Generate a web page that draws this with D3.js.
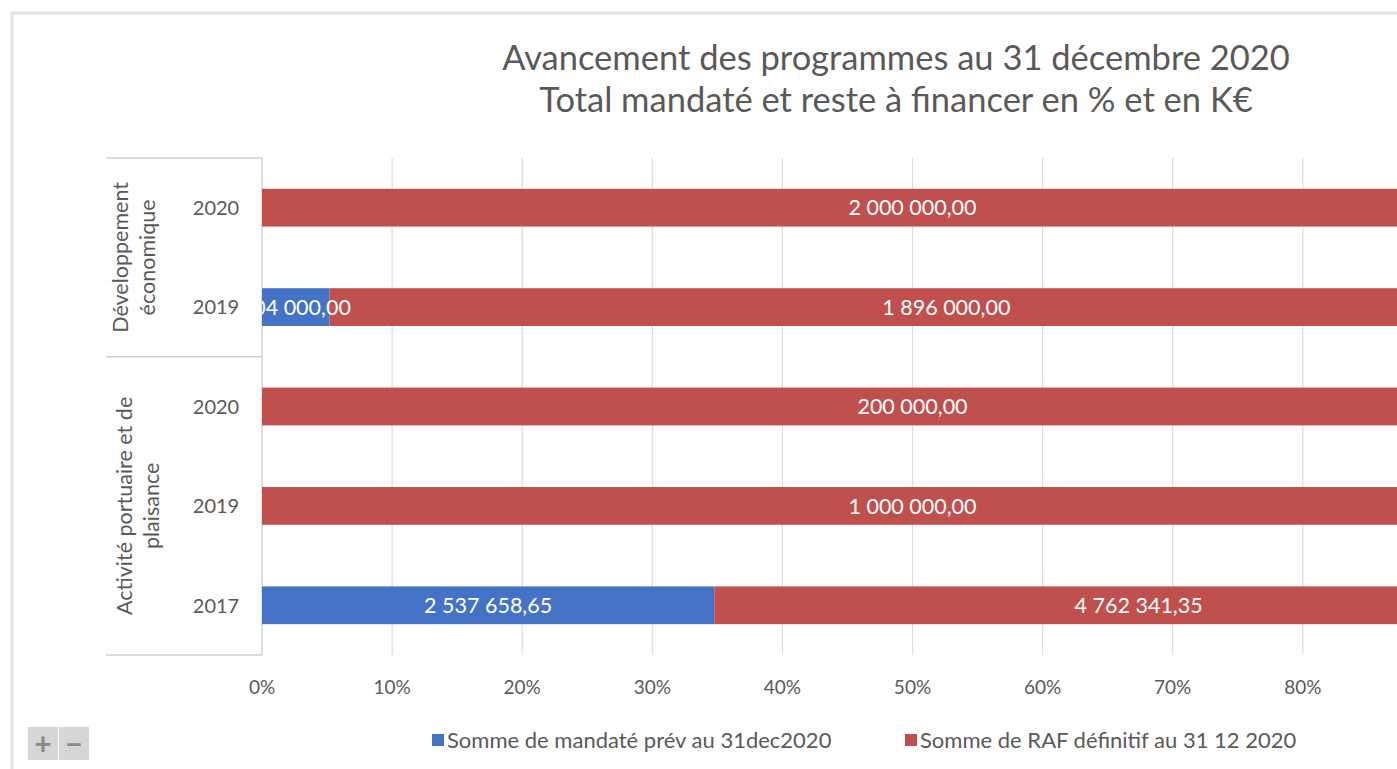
<!DOCTYPE html>
<html>
<head>
<meta charset="utf-8">
<script src="https://cdn.jsdelivr.net/npm/d3@7"></script>
<style>
body { margin: 0; background: #fff; overflow: hidden; }
text { font-family: Lato, "Open Sans", sans-serif; }
</style>
</head>
<body>
<script>
/* data */
var groups = ["Développement économique", "Activité portuaire et de plaisance"];
var groupLines = [["Développement", "économique"], ["Activité portuaire et de", "plaisance"]];
var years = ["2020", "2019", "2020", "2019", "2017"];
var groupOf = [0, 0, 1, 1, 1];
var mandate = [0, 104000, 0, 0, 2537658.65];
var raf = [2000000, 1896000, 200000, 1000000, 4762341.35];
var seriesNames = ["Somme de mandaté prév au 31dec2020", "Somme de RAF définitif au 31 12 2020"];
var tickValues = [0, 0.1, 0.2, 0.3, 0.4, 0.5, 0.6, 0.7, 0.8];
var titleLines = ["Avancement des programmes au 31 décembre 2020", "Total mandaté et reste à financer en % et en K€"];

/* settings */
var W = 1397, H = 769;
var colours = ["#4472C4", "#C0504D"];
var textColour = "#595959";
var plotLeft = 262, plotTop = 158, plotBottom = 655, plotWidth = 1301;

var fr = d3.formatLocale({decimal: ",", thousands: "\u00a0", grouping: [3], currency: ["", "€"]});
var fmt = fr.format(",.2f");

var svg = d3.select("body").append("svg")
	.attr("width", W).attr("height", H);

/* frame of the chart area */
svg.append("path")
	.attr("d", "M12," + H + " V13 H" + W)
	.attr("fill", "none").attr("stroke", "#e2e2e2").attr("stroke-width", 3);

/* title */
svg.append("g").selectAll("text").data(titleLines).enter().append("text")
	.attr("x", 896).attr("y", function(d, i) { return 70 + i * 42; })
	.attr("text-anchor", "middle")
	.attr("font-size", 34.5).attr("fill", textColour)
	.text(function(d) { return d; });

/* scales */
var idx = d3.range(years.length);
var x = d3.scaleLinear().domain([0, 1]).range([plotLeft, plotLeft + plotWidth]);
var y = d3.scaleBand().domain(idx).range([plotTop, plotBottom]).paddingInner(0.62).paddingOuter(0.31);

/* stacked, normalised to 100% */
var rows = idx.map(function(i) {
	var tot = mandate[i] + raf[i];
	return [
		{i: i, s: 0, v: mandate[i], x0: 0, x1: mandate[i] / tot},
		{i: i, s: 1, v: raf[i], x0: mandate[i] / tot, x1: 1}
	];
});
var segs = [].concat.apply([], rows);

/* gridlines */
svg.append("g").selectAll("line").data(tickValues).enter().append("line")
	.attr("x1", function(d) { return x(d); }).attr("x2", function(d) { return x(d); })
	.attr("y1", plotTop).attr("y2", plotBottom)
	.attr("stroke", function(d) { return d === 0 ? "#c8c8c8" : "#dcdcdc"; })
	.attr("stroke-width", 1.2);

/* bars */
svg.append("g").selectAll("rect").data(segs).enter().append("rect")
	.attr("x", function(d) { return x(d.x0); })
	.attr("width", function(d) { return x(d.x1) - x(d.x0); })
	.attr("y", function(d) { return y(d.i); })
	.attr("height", y.bandwidth())
	.attr("fill", function(d) { return colours[d.s]; });

/* value labels, clipped to the plot */
svg.append("clipPath").attr("id", "plotclip").append("rect")
	.attr("x", plotLeft).attr("y", plotTop).attr("width", plotWidth).attr("height", plotBottom - plotTop);

svg.append("g").attr("clip-path", "url(#plotclip)")
	.selectAll("text").data(segs.filter(function(d) { return d.v > 0; })).enter().append("text")
	.attr("x", function(d) { return (x(d.x0) + x(d.x1)) / 2; })
	.attr("y", function(d) { return y(d.i) + y.bandwidth() / 2; })
	.attr("dy", "0.36em")
	.attr("text-anchor", "middle")
	.attr("font-size", 21.5).attr("fill", "#fff")
	.text(function(d) { return fmt(d.v); });

/* x axis labels */
svg.append("g").selectAll("text").data(tickValues).enter().append("text")
	.attr("x", function(d) { return x(d); }).attr("y", 694)
	.attr("text-anchor", "middle")
	.attr("font-size", 19).attr("fill", textColour)
	.text(d3.format(".0%"));

/* category axis: years */
svg.append("g").selectAll("text").data(idx).enter().append("text")
	.attr("x", 216).attr("y", function(i) { return y(i) + y.bandwidth() / 2; })
	.attr("dy", "0.36em").attr("text-anchor", "middle")
	.attr("font-size", 20).attr("fill", textColour)
	.text(function(i) { return years[i]; });

/* category axis: group separators */
var groupStart = groups.map(function(g, k) { return idx.filter(function(i) { return groupOf[i] === k; })[0]; });
var seps = groupStart.map(function(i) { return y(i) - (y.step() - y.bandwidth()) / 2; }).concat([plotBottom]);
svg.append("g").selectAll("line").data(seps).enter().append("line")
	.attr("x1", 106).attr("x2", plotLeft)
	.attr("y1", function(d) { return d; }).attr("y2", function(d) { return d; })
	.attr("stroke", "#cfcfcf").attr("stroke-width", 1.5);

/* category axis: group names, rotated */
var gLab = svg.append("g").selectAll("g").data(groups).enter().append("g")
	.attr("transform", function(g, k) {
		var cy = (seps[k] + seps[k + 1]) / 2;
		return "translate(" + (k === 0 ? 134 : 138) + "," + cy + ") rotate(-90)";
	});
gLab.selectAll("text").data(function(g, k) { return groupLines[k]; }).enter().append("text")
	.attr("x", 0).attr("y", function(d, j, n) { return (j - (n.length - 1) / 2) * 27; })
	.attr("dy", "0.36em").attr("text-anchor", "middle")
	.attr("font-size", 21.5).attr("fill", textColour)
	.text(function(d) { return d; });

/* legend */
var legX = [432, 905];
var leg = svg.append("g").selectAll("g").data(seriesNames).enter().append("g")
	.attr("transform", function(d, i) { return "translate(" + legX[i] + ",740)"; });
leg.append("rect").attr("x", 0).attr("y", -6).attr("width", 12).attr("height", 12)
	.attr("fill", function(d, i) { return colours[i]; });
leg.append("text").attr("x", 15).attr("dy", "0.36em")
	.attr("font-size", 22).attr("fill", textColour)
	.text(function(d) { return d; });

/* zoom buttons */
var btn = svg.append("g").selectAll("g").data(["+", "\u2212"]).enter().append("g")
	.attr("transform", function(d, i) { return "translate(" + (28 + i * 31) + ",727)"; });
btn.append("rect").attr("width", 30).attr("height", 33).attr("fill", "#d6d6d6");
btn.append("text").attr("x", 15).attr("y", 17).attr("dy", "0.36em")
	.attr("text-anchor", "middle").attr("font-size", 30).attr("font-weight", "bold")
	.attr("fill", "#8a8a8a").text(function(d) { return d; });
</script>
</body>
</html>
